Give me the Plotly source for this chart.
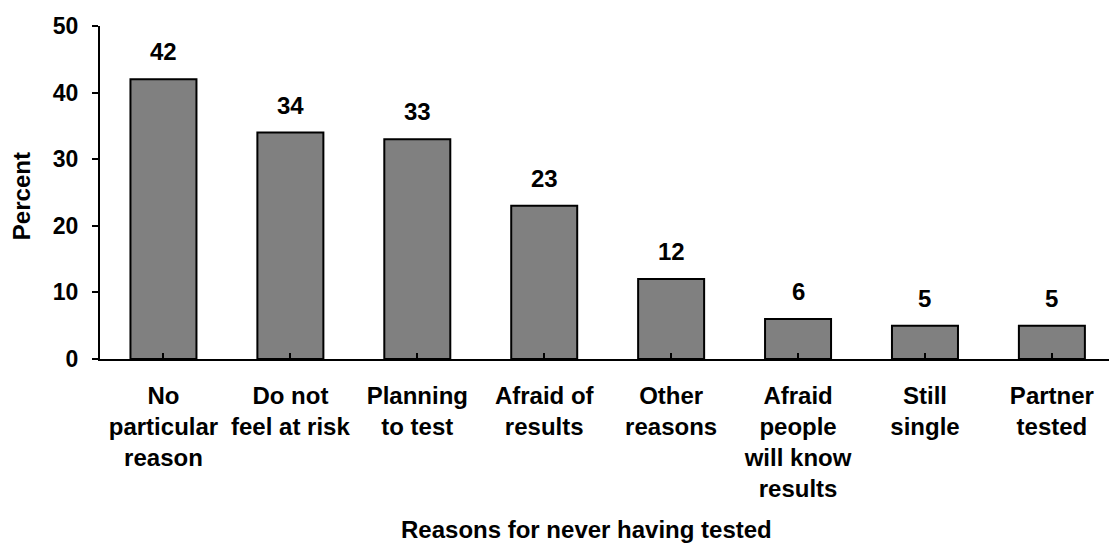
import plotly.graph_objects as go

categories = [
    "No<br>particular<br>reason",
    "Do not<br>feel at risk",
    "Planning<br>to test",
    "Afraid of<br>results",
    "Other<br>reasons",
    "Afraid<br>people<br>will know<br>results",
    "Still<br>single",
    "Partner<br>tested",
]
percent = [42, 34, 33, 23, 12, 6, 5, 5]
y_ticks = [0, 10, 20, 30, 40, 50]

FONT = "Liberation Sans, Arial, sans-serif"
SIZE = 24

fig = go.Figure(
    go.Bar(
        x=list(range(len(categories))),
        y=percent,
        width=0.52,
        marker=dict(color="#808080", line=dict(color="black", width=2)),
        hoverinfo="skip",
    )
)

# value labels above each bar
for i, v in enumerate(percent):
    fig.add_annotation(
        x=i, y=v, text=f"<b>{v}</b>", showarrow=False,
        yanchor="bottom", yshift=12,
        font=dict(family=FONT, size=SIZE, color="black"),
    )

fig.add_annotation(
    xref="paper", yref="paper", x=-0.077, y=0.49,
    text="<b>Percent</b>", textangle=-90, showarrow=False,
    xanchor="center", yanchor="middle",
    font=dict(family=FONT, size=SIZE, color="black"),
)
fig.add_annotation(
    xref="paper", yref="paper", x=0.482, y=-0.513,
    text="<b>Reasons for never having tested</b>", showarrow=False,
    xanchor="center", yanchor="middle",
    font=dict(family=FONT, size=SIZE, color="black"),
)

fig.update_layout(
    width=1109, height=544,
    margin=dict(l=100, r=0, t=26, b=185),
    plot_bgcolor="white", paper_bgcolor="white",
    showlegend=False,
    font=dict(family=FONT, color="black"),
)
fig.update_xaxes(
    range=[-0.5, 7.45],
    tickmode="array",
    tickvals=list(range(len(categories))),
    ticktext=[f"<b>{c}</b>" for c in categories],
    tickson="boundaries",
    ticks="inside", ticklen=6, tickwidth=2, tickcolor="black",
    showline=True, linecolor="black", linewidth=2,
    showgrid=False, zeroline=False,
    tickfont=dict(family=FONT, size=SIZE, color="black"),
    ticklabelstandoff=14,
)
fig.update_yaxes(
    range=[0, 50],
    tickmode="array", tickvals=y_ticks,
    ticktext=[f"<b>{t}</b>" for t in y_ticks],
    ticks="outside", ticklen=6, tickwidth=2, tickcolor="black",
    showline=True, linecolor="black", linewidth=2,
    showgrid=False, zeroline=False,
    tickfont=dict(family=FONT, size=SIZE - 1, color="black"),
    ticklabelstandoff=9,
)

fig.write_html("out.html")
